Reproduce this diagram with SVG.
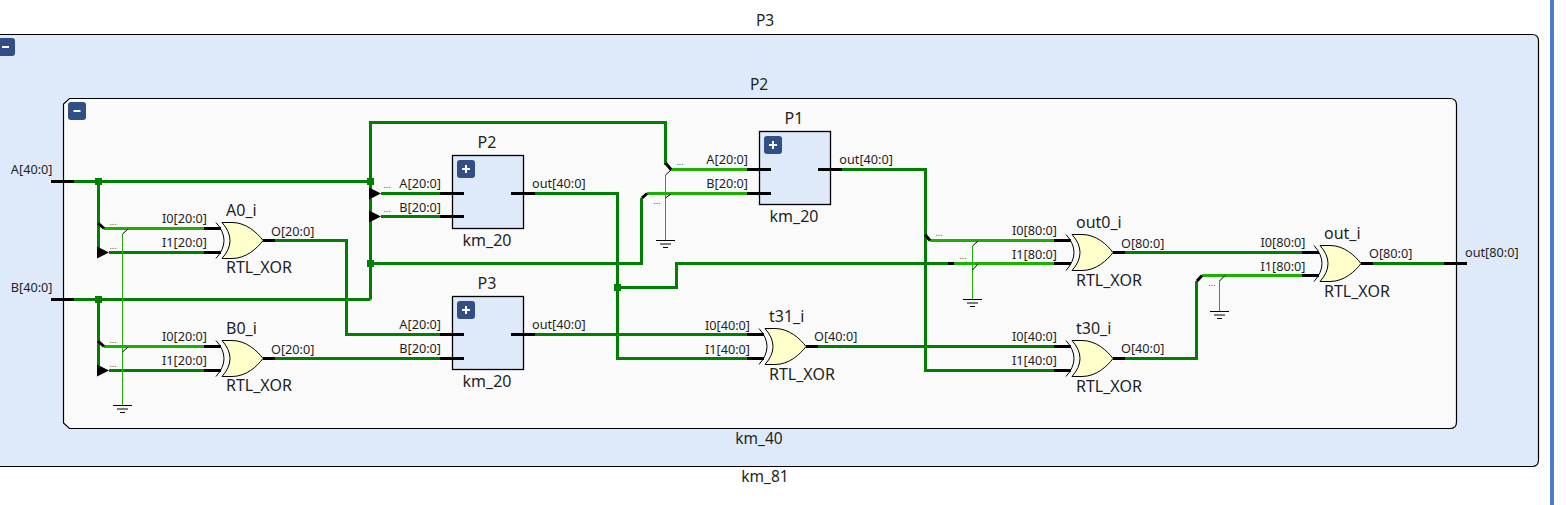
<svg xmlns="http://www.w3.org/2000/svg" xmlns:xlink="http://www.w3.org/1999/xlink" width="1566" height="505" viewBox="0 0 1566 505">
<style>
text{font-family:"Noto Sans","Open Sans","DejaVu Sans",sans-serif;fill:#1f1f1f}
.p{font-size:12.7px}.n{font-size:16px}.t{font-size:15.500px}.r{text-anchor:end}.c{text-anchor:middle}
.d{font-size:9px;fill:#555}
.w{fill:none;stroke:#007f00;stroke-width:3}
.l{fill:none;stroke:#1cb000;stroke-width:3}
.g{fill:none;stroke:#1cb000;stroke-width:1}
.k{fill:none;stroke:#000;stroke-width:3}
.t1{fill:none;stroke:#000;stroke-width:1}
.j{fill:#007f00}
.body{fill:#ffffcc;stroke:#000;stroke-width:1}
.box{fill:#deeaf9;stroke:#000;stroke-width:1.300}
.btn{fill:#314e87}
.ic{stroke:#fff;stroke-width:2;fill:none}
</style>
<defs>
<g id="xor">
<path class="t1" d="M-6,-18Q10,0 -6,18"/>
<path class="body" d="M0,-18H10C24,-18 35,-8 41,0C35,8 24,18 10,18H0Q16,0 0,-18Z"/>
</g>
<g id="gnd"><path class="t1" d="M-9.500,0H9.500M-5.500,3.500H5.500M-2.500,7H2.500"/></g>
<path id="arrow" d="M0,-6V6L12,0Z"/>
</defs>

<rect x="1550" y="0" width="4" height="505" fill="#4a7bd0"/>
<g id="P3_outer">
<path d="M-10,34.500H1532Q1538.500,34.500 1538.500,41V460Q1538.500,466.500 1532,466.500H-10Z" fill="#deeaf9" stroke="#000" stroke-width="1.200"/>
<rect class="btn" x="-4" y="38" width="19" height="18" rx="3"/>
<path class="ic" d="M2,47H9"/>
<text class="t c" x="765" y="26">P3</text>
<text class="t c" x="765" y="482">km_81</text>
</g>
<g id="P2_inner">
<path d="M69.500,98.500H1450Q1456.500,98.500 1456.500,105V422Q1456.500,428.500 1450,428.500H69.500L63.500,423V104Z" fill="#fafafa" stroke="#000" stroke-width="1.200"/>
<rect class="btn" x="68" y="102" width="18" height="18" rx="3"/>
<path class="ic" d="M73.500,111H80.500"/>
<text class="t c" x="759" y="90">P2</text>
<text class="t c" x="759" y="444">km_40</text>
</g>

<g id="connectors">
<path class="w" d="M74,181.500H370.500M98.500,181.500V252.500"/>
<path class="w" d="M74,299.500H370.500M98.500,299.500V370.500"/>
<path class="w" d="M109,252.500H204M109,370.500H204"/>
<path class="l" d="M104,228.500H204M104,346.500H204"/>
<path class="w" d="M275,240.500H346.500V334.500H440"/>
<path class="w" d="M275,358.500H440"/>
<path class="w" d="M370.500,299.500V122.500H665.500V165"/>
<path class="w" d="M381,193.500H440M381,216.500H440"/>
<path class="w" d="M370.500,263.500H641.500V198"/>
<path class="l" d="M671,169.500H747M647,193.500H747"/>
<path class="w" d="M535,193.500H617.500V358.500H747"/>
<path class="w" d="M617.500,287.500H676.500V263.500H948"/>
<path class="w" d="M535,334.500H747"/>
<path class="w" d="M842,169.500H925.500V370.500H1054"/>
<path class="l" d="M930,240.500H1054M954,263.500H1054"/>
<path class="w" d="M818,346.500H1054"/>
<path class="w" d="M1125,252.500H1302"/>
<path class="w" d="M1125,358.500H1196.500V281"/>
<path class="l" d="M1202,275.500H1302"/>
<path class="w" d="M1373,263.500H1444"/>
<path class="g" d="M122.500,234V405M665.500,175V240M972.500,246V299M1219.500,281V311"/>
<path class="t1" d="M122.500,234L128,229M122.500,352L128,347M665.500,175L671,170M665.500,198L671,194M972.500,246L978,241M972.500,270L978,264M1219.500,281L1225,275.500"/>
<path class="k" d="M98,223L104,228.500M98,341L104,346.500M665.500,163L671,169.500M642,198L647,193.500M925,234.500L930,240.500M1197,281L1202,275.500"/>
<path class="k" d="M948,263.500H954"/>
<g class="j">
<rect x="95" y="178" width="7" height="7"/>
<rect x="95" y="296" width="7" height="7"/>
<rect x="367" y="178" width="7" height="7"/>
<rect x="367" y="260" width="7" height="7"/>
<rect x="614" y="284" width="7" height="7"/>
</g>
<use xlink:href="#arrow" href="#arrow" x="97" y="252.500"/>
<use xlink:href="#arrow" href="#arrow" x="97" y="370.500"/>
<use xlink:href="#arrow" href="#arrow" x="369" y="193.500"/>
<use xlink:href="#arrow" href="#arrow" x="369" y="216.500"/>
<use href="#gnd" x="122.500" y="405.500"/>
<use href="#gnd" x="665.500" y="240.500"/>
<use href="#gnd" x="972.500" y="299.500"/>
<use href="#gnd" x="1219.500" y="311.500"/>
<g class="d">
<text class="d c" x="113" y="225">...</text><text class="d c" x="113" y="249">...</text>
<text class="d c" x="113" y="343">...</text><text class="d c" x="113" y="367">...</text>
<text class="d c" x="387" y="188">...</text><text class="d c" x="387" y="212">...</text>
<text class="d c" x="680" y="165">...</text><text class="d c" x="657" y="204">...</text>
<text class="d c" x="939" y="236">...</text><text class="d c" x="963" y="259">...</text>
<text class="d c" x="1212" y="286">...</text>
</g>
</g>

<g id="port_A"><path class="k" d="M51,181.500H74"/><text class="p r" x="52.500" y="174">A[40:0]</text></g>
<g id="port_B"><path class="k" d="M51,299.500H74"/><text class="p r" x="52.500" y="292">B[40:0]</text></g>
<g id="port_out"><path class="k" d="M1444,263.500H1467"/><text class="p" x="1465" y="256.700">out[80:0]</text></g>

<g id="A0_i">
<path class="k" d="M204,228.500H221M204,252.500H221M263,240.500H275"/>
<use href="#xor" x="222" y="240.500"/>
<text class="n" x="226" y="215.600">A0_i</text><text class="n" x="226" y="273">RTL_XOR</text>
<text class="p r" x="207" y="223">I0[20:0]</text><text class="p r" x="207" y="247">I1[20:0]</text><text class="p" x="271" y="235.500">O[20:0]</text>
</g>
<g id="B0_i">
<path class="k" d="M204,346.500H221M204,370.500H221M263,358.500H275"/>
<use href="#xor" x="222" y="358.500"/>
<text class="n" x="226" y="333.600">B0_i</text><text class="n" x="226" y="391">RTL_XOR</text>
<text class="p r" x="207" y="341">I0[20:0]</text><text class="p r" x="207" y="365">I1[20:0]</text><text class="p" x="271" y="353.500">O[20:0]</text>
</g>
<g id="t31_i">
<path class="k" d="M747,334.500H764M747,358.500H764M806,346.500H818"/>
<use href="#xor" x="765" y="346.500"/>
<text class="n" x="769" y="321.700">t31_i</text><text class="n" x="769" y="380">RTL_XOR</text>
<text class="p r" x="750" y="329.700">I0[40:0]</text><text class="p r" x="750" y="353.700">I1[40:0]</text><text class="p" x="814" y="341">O[40:0]</text>
</g>
<g id="out0_i">
<path class="k" d="M1054,240.500H1071M1054,263.500H1071M1113,252.500H1125"/>
<use href="#xor" x="1072" y="252.500"/>
<text class="n" x="1076" y="228">out0_i</text><text class="n" x="1076" y="286">RTL_XOR</text>
<text class="p r" x="1057" y="235">I0[80:0]</text><text class="p r" x="1057" y="259">I1[80:0]</text><text class="p" x="1121" y="247.700">O[80:0]</text>
</g>
<g id="t30_i">
<path class="k" d="M1054,346.500H1071M1054,370.500H1071M1113,358.500H1125"/>
<use href="#xor" x="1072" y="358.500"/>
<text class="n" x="1076" y="334">t30_i</text><text class="n" x="1076" y="391.700">RTL_XOR</text>
<text class="p r" x="1057" y="341">I0[40:0]</text><text class="p r" x="1057" y="365">I1[40:0]</text><text class="p" x="1121" y="353.300">O[40:0]</text>
</g>
<g id="out_i">
<path class="k" d="M1302,252.500H1319M1302,275.500H1319M1361,263.500H1373"/>
<use href="#xor" x="1320" y="263.500"/>
<text class="n" x="1324" y="239.300">out_i</text><text class="n" x="1324" y="296.700">RTL_XOR</text>
<text class="p r" x="1305.500" y="246.700">I0[80:0]</text><text class="p r" x="1305.500" y="270.700">I1[80:0]</text><text class="p" x="1369" y="258">O[80:0]</text>
</g>

<g id="P2_block">
<rect class="box" x="452.500" y="155.500" width="71" height="73"/>
<path class="k" d="M440,193.500H464M440,216.500H464M511,193.500H535"/>
<rect class="btn" x="457" y="160" width="18" height="18" rx="3"/><path class="ic" d="M462,169H470M466,165V173"/>
<text class="n c" x="487" y="147.700">P2</text><text class="n c" x="487" y="245.600">km_20</text>
<text class="p r" x="441" y="188">A[20:0]</text><text class="p r" x="441" y="211.600">B[20:0]</text><text class="p" x="532" y="188">out[40:0]</text>
</g>
<g id="P3_block">
<rect class="box" x="452.500" y="296.500" width="71" height="73"/>
<path class="k" d="M440,334.500H464M440,358.500H464M511,334.500H535"/>
<rect class="btn" x="457" y="301" width="18" height="18" rx="3"/><path class="ic" d="M462,310H470M466,306V314"/>
<text class="n c" x="487" y="288.700">P3</text><text class="n c" x="487" y="386.700">km_20</text>
<text class="p r" x="441" y="329">A[20:0]</text><text class="p r" x="441" y="352.700">B[20:0]</text><text class="p" x="532" y="329">out[40:0]</text>
</g>
<g id="P1_block">
<rect class="box" x="759.500" y="131.500" width="71" height="73"/>
<path class="k" d="M747,169.500H771M747,193.500H771M818,169.500H842"/>
<rect class="btn" x="764" y="136" width="18" height="18" rx="3"/><path class="ic" d="M769,145H777M773,141V149"/>
<text class="n c" x="794" y="124">P1</text><text class="n c" x="794" y="222">km_20</text>
<text class="p r" x="748" y="164">A[20:0]</text><text class="p r" x="748" y="187.700">B[20:0]</text><text class="p" x="839.300" y="164">out[40:0]</text>
</g>
</svg>
